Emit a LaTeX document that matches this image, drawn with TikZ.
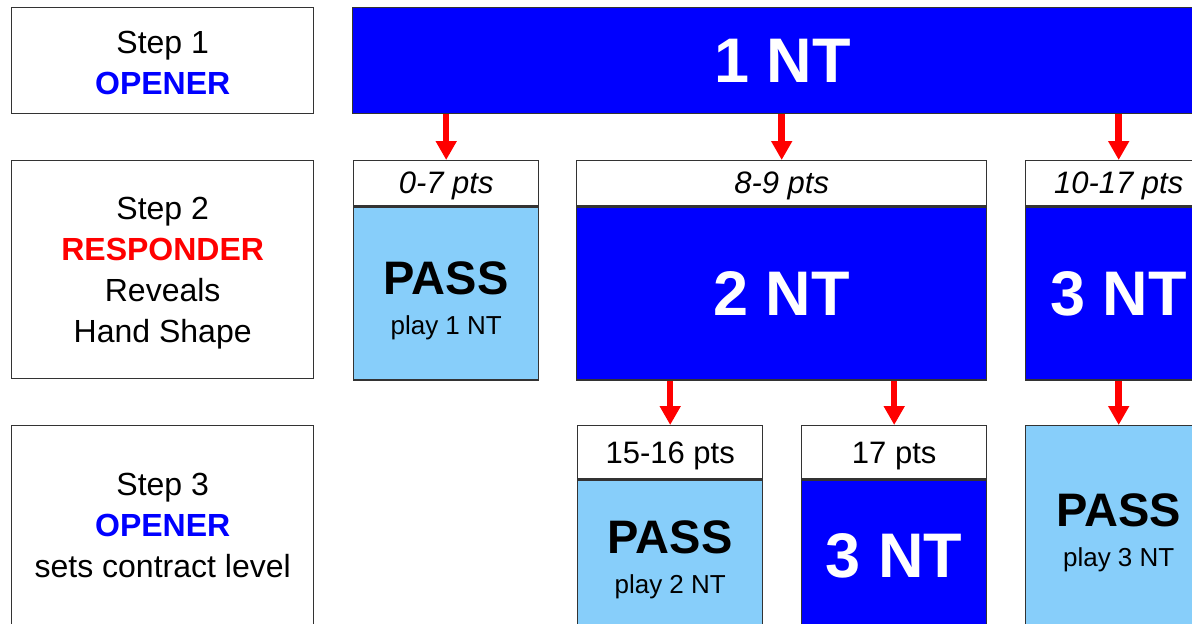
\documentclass[tikz,border=0pt]{standalone}
\usepackage{fontspec}
\setmainfont{Liberation Sans}
\usetikzlibrary{positioning,arrows.meta}
\definecolor{bidblue}{RGB}{0,0,255}
\definecolor{passblue}{RGB}{135,206,250}
\definecolor{arrowred}{RGB}{255,0,0}

\begin{document}
\begin{tikzpicture}[x=1pt,y=-1pt,
      every node/.style={rectangle,draw=black!80,line width=1.4pt,anchor=north west,
                         inner sep=0pt,align=center},
      stepbox/.style={fill=white,minimum width=302pt,font=\fontsize{32}{41}\selectfont},
      ptsbox/.style={fill=white,font=\fontsize{31}{37}\selectfont},
      bidbox/.style={fill=bidblue,text=white,font=\fontsize{63}{70}\selectfont\bfseries},
      passbox/.style={fill=passblue,font=\fontsize{26}{40}\selectfont},
      flow/.style={draw=arrowred,line width=6.5pt,-{Triangle[width=20pt,length=19pt]}}]
      \useasboundingbox (0,0) rectangle (1192,624);
      \clip (0,0) rectangle (1192,624);

      % left column
      \node[stepbox,minimum height=106pt] (step1) at (11,7)
            {\rule{0pt}{27pt}Step 1\\\textcolor{bidblue}{\bfseries OPENER}};
      \node[stepbox,minimum height=218pt] (step2) at (11,160)
            {\rule{0pt}{30pt}Step 2\\\textcolor{arrowred}{\bfseries RESPONDER}\\Reveals\\Hand Shape};
      \node[stepbox,minimum height=200pt] (step3) at (11,425)
            {Step 3\\\textcolor{bidblue}{\bfseries OPENER}\\sets contract level};

      % step 1
      \node[bidbox,minimum width=860pt,minimum height=106pt] (nt1) at (352,7) {1 NT};

      % step 2
      \node[ptsbox,minimum width=185pt,minimum height=45pt] (p07) at (353,160)
            {\rule{0pt}{28pt}\itshape 0-7 pts};
      \node[passbox,minimum width=185pt,minimum height=173pt,below=0pt of p07] (pass1)
            {{\fontsize{47}{40}\selectfont\bfseries\rule{0pt}{47pt}PASS}\\play 1 NT};
      \node[ptsbox,minimum width=410pt,minimum height=45pt] (p89) at (576,160)
            {\rule{0pt}{28pt}\itshape 8-9 pts};
      \node[bidbox,minimum width=410pt,minimum height=173pt,below=0pt of p89] (nt2) {2 NT};
      \node[ptsbox,minimum width=186pt,minimum height=45pt] (p1017) at (1025,160)
            {\rule{0pt}{28pt}\itshape 10-17 pts};
      \node[bidbox,minimum width=186pt,minimum height=173pt,below=0pt of p1017] (nt3a) {3 NT};

      % step 3
      \node[ptsbox,minimum width=185pt,minimum height=53pt] (p1516) at (577,425)
            {\rule{0pt}{30pt}15-16 pts};
      \node[passbox,minimum width=185pt,minimum height=152pt,below=0pt of p1516] (pass2)
            {{\fontsize{47}{40}\selectfont\bfseries\rule{0pt}{40pt}PASS}\\play 2 NT};
      \node[ptsbox,minimum width=185pt,minimum height=53pt] (p17) at (801,425)
            {\rule{0pt}{30pt}17 pts};
      \node[bidbox,minimum width=185pt,minimum height=152pt,below=0pt of p17] (nt3b) {3 NT};
      \node[passbox,minimum width=186pt,minimum height=205pt] (pass3) at (1025,425)
            {{\fontsize{47}{40}\selectfont\bfseries\rule{0pt}{41pt}PASS}\\play 3 NT};

      % arrows
      \draw[flow] (nt1.south -| p07.north) -- (p07.north);
      \draw[flow] (nt1.south -| p89.north) -- (p89.north);
      \draw[flow] (nt1.south -| p1017.north) -- (p1017.north);
      \draw[flow] (nt2.south -| p1516.north) -- (p1516.north);
      \draw[flow] (nt2.south -| p17.north) -- (p17.north);
      \draw[flow] (nt3a.south -| pass3.north) -- (pass3.north);
\end{tikzpicture}
\end{document}
